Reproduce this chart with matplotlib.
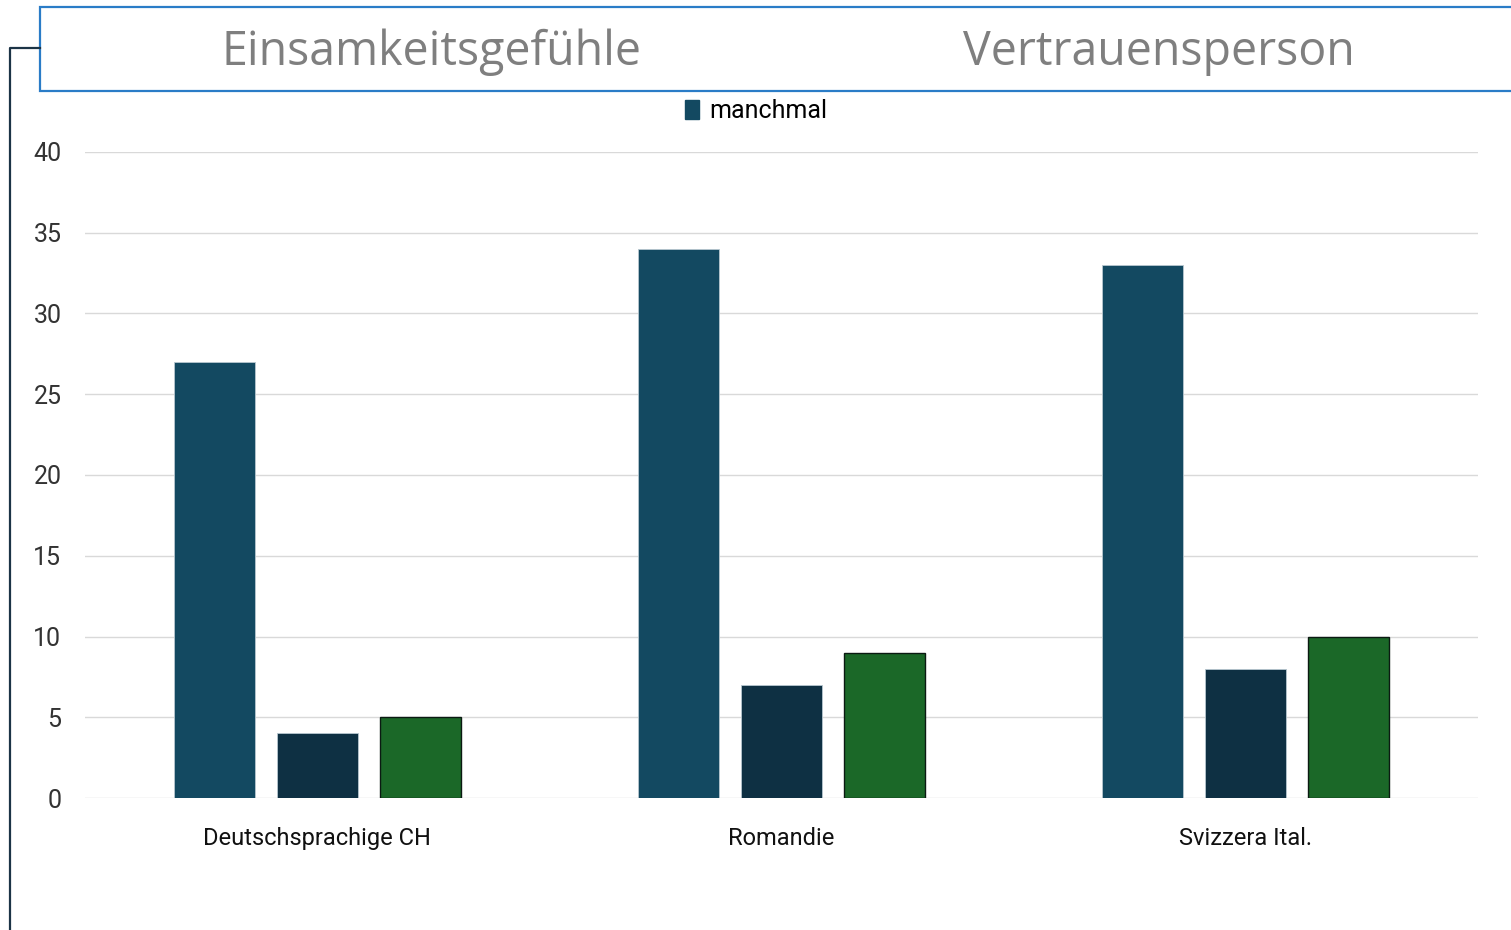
import matplotlib.pyplot as plt
import matplotlib.patches as mpatches
from matplotlib.lines import Line2D
import numpy as np

regions = ['Deutschsprachige CH', 'Romandie', 'Svizzera Ital.']
manchmal = [27, 34, 33]
serie2 = [4, 7, 8]
serie3 = [5, 9, 10]
yticks = [0, 5, 10, 15, 20, 25, 30, 35, 40]

c1 = '#134961'
c2 = '#0e3043'
c3 = '#1b6828'
tick_font = ['Roboto', 'DejaVu Sans']

fig = plt.figure(figsize=(15.11, 9.30), dpi=100)
ax = fig.add_axes([85 / 1511, 1 - 798 / 930, (1478 - 85) / 1511, (798 - 152) / 930])

x = np.arange(len(regions))
w = 0.1745
off = 0.222
ax.bar(x - off, manchmal, w, color=c1, edgecolor='#b8c7d0', linewidth=0.6, label='manchmal', zorder=3)
ax.bar(x, serie2, w, color=c2, edgecolor='#b8c7d0', linewidth=0.6, zorder=3)
ax.bar(x + off, serie3, w, color=c3, edgecolor='#0b1a12', linewidth=1.0, zorder=3)

ax.set_xlim(-0.5, 2.5)
ax.set_ylim(0, 40)
ax.set_yticks(yticks)
ax.yaxis.grid(True, color='#d9d9d9', linewidth=1.0, zorder=0)
ax.set_axisbelow(True)
for s in ax.spines.values():
    s.set_visible(False)
ax.tick_params(axis='both', length=0)
ax.tick_params(axis='y', pad=17)
ax.tick_params(axis='x', pad=21)
ax.set_xticks(x)
ax.set_xticklabels(regions, fontsize=17, family=tick_font, color='#111111')
for lbl in ax.get_yticklabels():
    lbl.set_fontsize(18)
    lbl.set_family(tick_font)
    lbl.set_color('#333333')

# legend
handles = [mpatches.Patch(color=c1, label='manchmal')]
fig.legend(handles=handles, loc='center', bbox_to_anchor=(756 / 1511, 1 - 111 / 930),
           frameon=False, prop={'family': tick_font, 'size': 18},
           handlelength=0.55, handleheight=0.8, handletextpad=0.4)

# header box
fig.add_artist(mpatches.Rectangle((40 / 1511, 1 - 91 / 930), 1.0, (91 - 7) / 930,
                                  transform=fig.transFigure, facecolor='white',
                                  edgecolor='#2a7cc7', linewidth=1.6))
fig.text(432 / 1511, 1 - 52 / 930, 'Einsamkeitsgefühle', fontsize=33.5, color='#7f7f7f',
         family=['Open Sans', 'DejaVu Sans'], ha='center', va='center')
fig.text(1159 / 1511, 1 - 52 / 930, 'Vertrauensperson', fontsize=33.5, color='#7f7f7f',
         family=['Open Sans', 'DejaVu Sans'], ha='center', va='center')

# left bracket
fig.add_artist(Line2D([10 / 1511, 10 / 1511, 40 / 1511], [0, 1 - 48 / 930, 1 - 48 / 930],
                      transform=fig.transFigure, color='#1c3446', linewidth=1.6))

fig.savefig('out.png', dpi=100)
